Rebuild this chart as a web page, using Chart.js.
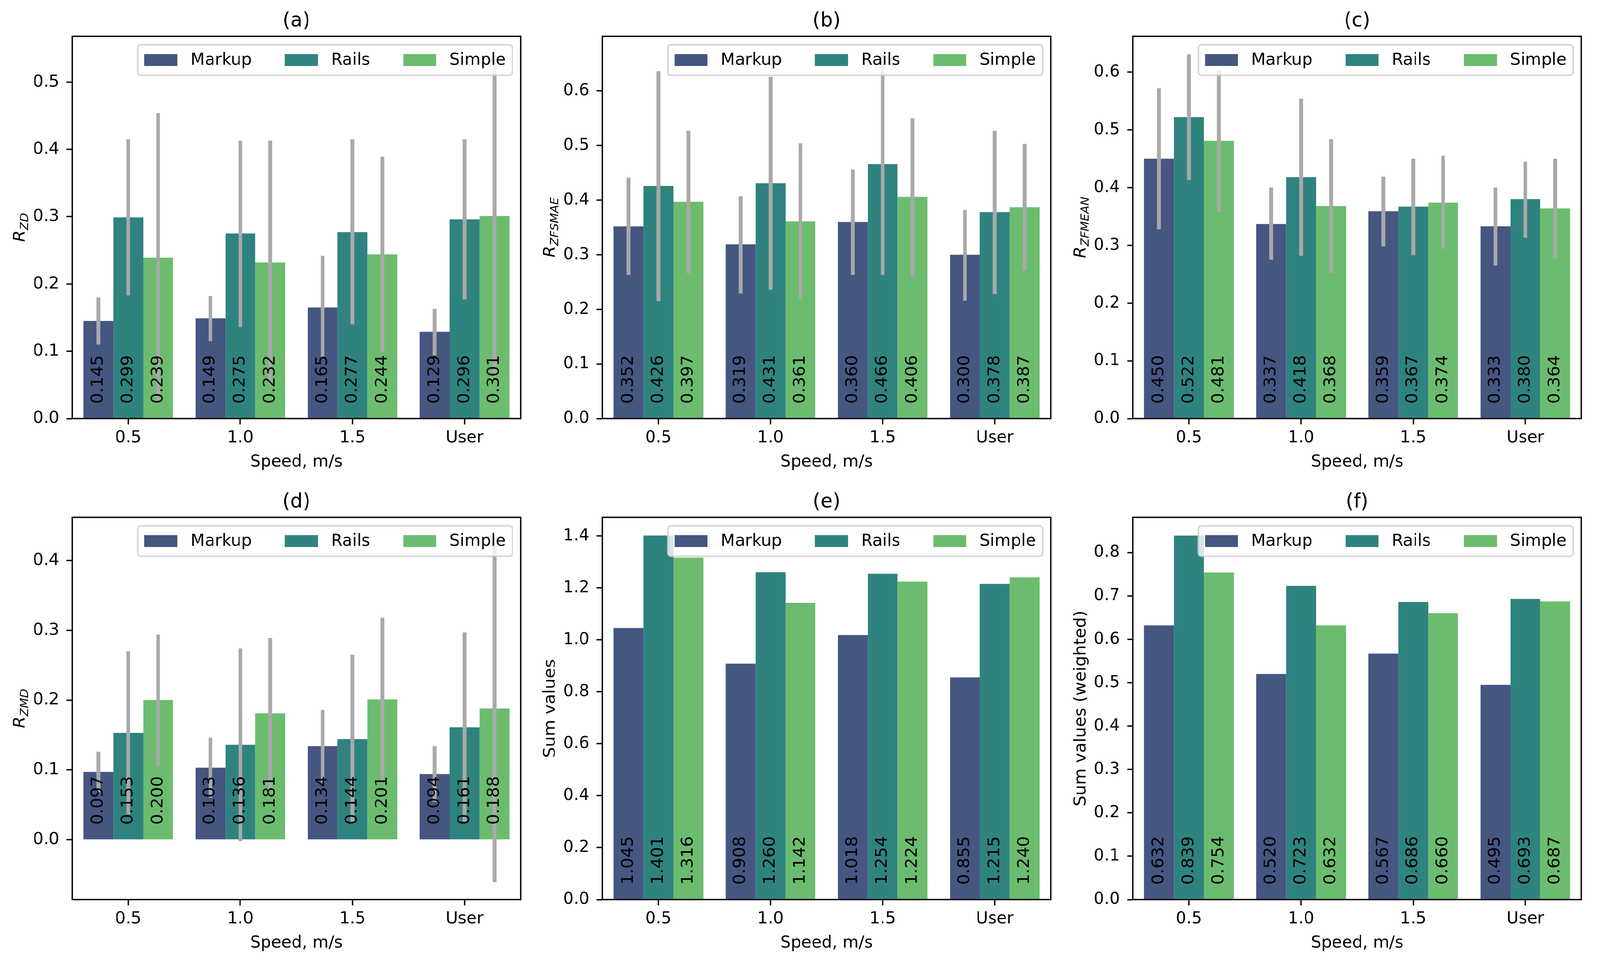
<!DOCTYPE html>
<html>
<head>
<meta charset="utf-8">
<title>Speed comparison</title>
<script src="https://cdn.jsdelivr.net/npm/chart.js@4.4.1/dist/chart.umd.min.js"></script>
<style>
  html, body { margin: 0; padding: 0; background: #fff; overflow: hidden; }
  #fig { position: absolute; left: 0; top: 0; width: 4213px; height: 2469px; transform-origin: 0 0; }
  .panel { position: absolute; width: 1391px; height: 1222px; }
</style>
</head>
<body>
<div id="fig">
<div class="panel" style="left:0px;top:0px"><canvas id="chartA"></canvas></div>
<div class="panel" style="left:1396px;top:0px"><canvas id="chartB"></canvas></div>
<div class="panel" style="left:2793px;top:0px"><canvas id="chartC"></canvas></div>
<div class="panel" style="left:0px;top:1232px"><canvas id="chartD"></canvas></div>
<div class="panel" style="left:1396px;top:1232px"><canvas id="chartE"></canvas></div>
<div class="panel" style="left:2793px;top:1232px"><canvas id="chartF"></canvas></div>
</div>
<script>
// categories and series
var speeds  = ['0.5', '1.0', '1.5', 'User'];
var methods = ['Markup', 'Rails', 'Simple'];
var colors  = ['#455681', '#2f837f', '#6cbc6f'];

// (a) R_ZD  -- rows: Markup, Rails, Simple
var rzd     = [[0.145, 0.149, 0.165, 0.129], [0.299, 0.275, 0.277, 0.296], [0.239, 0.232, 0.244, 0.301]];
var rzdLow  = [[0.110, 0.115, 0.090, 0.094], [0.183, 0.136, 0.140, 0.177], [0.025, 0.051, 0.099, 0.062]];
var rzdHigh = [[0.180, 0.182, 0.242, 0.163], [0.415, 0.413, 0.415, 0.415], [0.454, 0.413, 0.389, 0.540]];
var rzdTicks = [0, 0.1, 0.2, 0.3, 0.4, 0.5];

// (b) R_ZFSMAE
var rfs     = [[0.352, 0.319, 0.360, 0.300], [0.426, 0.431, 0.466, 0.378], [0.397, 0.361, 0.406, 0.387]];
var rfsLow  = [[0.263, 0.229, 0.263, 0.216], [0.215, 0.236, 0.263, 0.228], [0.266, 0.218, 0.260, 0.271]];
var rfsHigh = [[0.441, 0.407, 0.456, 0.382], [0.636, 0.626, 0.669, 0.527], [0.527, 0.504, 0.550, 0.503]];
var rfsTicks = [0, 0.1, 0.2, 0.3, 0.4, 0.5, 0.6];

// (c) R_ZFMEAN
var rfm     = [[0.450, 0.337, 0.359, 0.333], [0.522, 0.418, 0.367, 0.380], [0.481, 0.368, 0.374, 0.364]];
var rfmLow  = [[0.328, 0.275, 0.298, 0.265], [0.413, 0.282, 0.283, 0.313], [0.358, 0.252, 0.294, 0.277]];
var rfmHigh = [[0.572, 0.400, 0.419, 0.400], [0.631, 0.554, 0.450, 0.445], [0.603, 0.484, 0.455, 0.450]];
var rfmTicks = [0, 0.1, 0.2, 0.3, 0.4, 0.5, 0.6];

// (d) R_ZMD
var rmd     = [[0.097, 0.103, 0.134, 0.094], [0.153, 0.136, 0.144, 0.161], [0.200, 0.181, 0.201, 0.188]];
var rmdLow  = [[0.068, 0.060, 0.082, 0.054], [0.036, -0.002, 0.023, 0.025], [0.106, 0.073, 0.084, -0.061]];
var rmdHigh = [[0.126, 0.146, 0.186, 0.134], [0.270, 0.274, 0.265, 0.297], [0.294, 0.289, 0.318, 0.437]];
var rmdTicks = [0, 0.1, 0.2, 0.3, 0.4];

// (e) sum values
var sums     = [[1.045, 0.908, 1.018, 0.855], [1.401, 1.260, 1.254, 1.215], [1.316, 1.142, 1.224, 1.240]];
var sumTicks = [0, 0.2, 0.4, 0.6, 0.8, 1.0, 1.2, 1.4];

// (f) sum values (weighted)
var wsums     = [[0.632, 0.520, 0.567, 0.495], [0.839, 0.723, 0.686, 0.693], [0.754, 0.632, 0.660, 0.687]];
var wsumTicks = [0, 0.1, 0.2, 0.3, 0.4, 0.5, 0.6, 0.7, 0.8];

var FONT = 'DejaVu Sans';
var FS = 43.5;

// the viewport may be narrower than 4213px; stretch the figure onto it
var fig = document.getElementById('fig');
var kx = window.innerWidth / 4213;
var ky = window.innerHeight / 2469;
fig.style.transform = 'scale(' + kx + ',' + ky + ')';

Chart.defaults.font.family = FONT;
Chart.defaults.color = '#000';

function makeChart(id, letter, yMain, ySub, values, low, high, yMin, yMax, ticks) {

    var decor = {
        id: 'decor' + letter,
        afterDatasetsDraw: function(chart) {
            var ctx = chart.ctx;
            var area = chart.chartArea;
            var yScale = chart.scales.y;

            // error bars
            if (low) {
                ctx.save();
                ctx.beginPath();
                ctx.rect(area.left, area.top, area.right - area.left, area.bottom - area.top);
                ctx.clip();
                ctx.strokeStyle = '#a9a9a9';
                ctx.lineWidth = 10;
                ctx.lineCap = 'butt';
                chart.data.datasets.forEach(function(ds, di) {
                    chart.getDatasetMeta(di).data.forEach(function(bar, i) {
                        ctx.beginPath();
                        ctx.moveTo(bar.x, yScale.getPixelForValue(low[di][i]));
                        ctx.lineTo(bar.x, yScale.getPixelForValue(high[di][i]));
                        ctx.stroke();
                    });
                });
                ctx.restore();
            }

            // value labels, rotated, sitting on the zero line
            ctx.save();
            ctx.fillStyle = '#000';
            ctx.font = FS + 'px "' + FONT + '"';
            ctx.textAlign = 'left';
            ctx.textBaseline = 'middle';
            var y0 = yScale.getPixelForValue(0) - 38;
            chart.data.datasets.forEach(function(ds, di) {
                chart.getDatasetMeta(di).data.forEach(function(bar, i) {
                    ctx.save();
                    ctx.translate(bar.x, y0);
                    ctx.rotate(-Math.PI / 2);
                    ctx.fillText(ds.data[i].toFixed(3), 0, 0);
                    ctx.restore();
                });
            });
            ctx.restore();

            // frame
            ctx.save();
            ctx.strokeStyle = '#000';
            ctx.lineWidth = 3.5;
            ctx.strokeRect(area.left, area.top, area.right - area.left, area.bottom - area.top);
            ctx.restore();
        },
        afterDraw: function(chart) {
            var ctx = chart.ctx;
            var area = chart.chartArea;

            // panel title
            ctx.save();
            ctx.fillStyle = '#000';
            ctx.font = '52px "' + FONT + '"';
            ctx.textAlign = 'center';
            ctx.textBaseline = 'alphabetic';
            ctx.fillText('(' + letter + ')', (area.left + area.right) / 2, area.top - 25);
            ctx.restore();

            // y label (with optional subscript)
            ctx.save();
            ctx.fillStyle = '#000';
            ctx.translate(area.left - 125, (area.top + area.bottom) / 2);
            ctx.rotate(-Math.PI / 2);
            ctx.textBaseline = 'alphabetic';
            ctx.textAlign = 'left';
            if (ySub) {
                var mainFont = 'italic ' + FS + 'px "' + FONT + '"';
                var subFont = 'italic ' + (FS * 0.7) + 'px "' + FONT + '"';
                ctx.font = mainFont;
                var wMain = ctx.measureText(yMain).width;
                ctx.font = subFont;
                var wSub = ctx.measureText(ySub).width;
                var x0 = -(wMain + wSub) / 2;
                ctx.font = mainFont;
                ctx.fillText(yMain, x0, 0);
                ctx.font = subFont;
                ctx.fillText(ySub, x0 + wMain, 9);
            } else {
                ctx.font = FS + 'px "' + FONT + '"';
                ctx.textAlign = 'center';
                ctx.fillText(yMain, 0, 0);
            }
            ctx.restore();

            // legend box, upper right inside the axes
            ctx.save();
            ctx.font = FS + 'px "' + FONT + '"';
            var pad = 0.4 * FS, hLen = 2 * FS, hH = 0.7 * FS, tPad = 0.8 * FS, colSp = 2 * FS;
            var widths = methods.map(function(m) { return ctx.measureText(m).width; });
            var boxW = 2 * pad + colSp * (methods.length - 1);
            widths.forEach(function(w) { boxW += hLen + tPad + w; });
            var boxH = 78;
            var bx = area.right - 0.5 * FS - boxW;
            var by = area.top + 0.5 * FS;
            ctx.beginPath();
            ctx.roundRect(bx, by, boxW, boxH, 8);
            ctx.fillStyle = 'rgba(255,255,255,0.8)';
            ctx.fill();
            ctx.strokeStyle = 'rgba(204,204,204,0.8)';
            ctx.lineWidth = 4;
            ctx.stroke();
            var cy = by + boxH / 2;
            var x = bx + pad;
            ctx.textAlign = 'left';
            ctx.textBaseline = 'middle';
            methods.forEach(function(m, i) {
                ctx.fillStyle = colors[i];
                ctx.fillRect(x, cy - hH / 2, hLen, hH);
                ctx.fillStyle = '#000';
                ctx.fillText(m, x + hLen + tPad, cy + 1);
                x += hLen + tPad + widths[i] + colSp;
            });
            ctx.restore();
        }
    };

    var datasets = methods.map(function(m, i) {
        return {
            label: m,
            data: values[i],
            backgroundColor: colors[i],
            borderWidth: 0,
            categoryPercentage: 0.8,
            barPercentage: 1.0
        };
    });

    var tickFont = { family: FONT, size: FS };

    return new Chart(document.getElementById(id), {
        type: 'bar',
        data: { labels: speeds, datasets: datasets },
        options: {
            responsive: true,
            maintainAspectRatio: false,
            animation: false,
            events: [],
            layout: { padding: { top: 93, right: 20, left: 0, bottom: 0 } },
            plugins: {
                legend: { display: false },
                tooltip: { enabled: false },
                title: { display: false }
            },
            scales: {
                x: {
                    type: 'category',
                    offset: true,
                    border: { display: false },
                    grid: {
                        offset: false,
                        drawOnChartArea: false,
                        drawTicks: true,
                        tickLength: 15,
                        tickWidth: 3.5,
                        tickColor: '#000'
                    },
                    ticks: { font: tickFont, color: '#000', padding: 9, maxRotation: 0 },
                    title: {
                        display: true,
                        text: 'Speed, m/s',
                        font: tickFont,
                        color: '#000',
                        padding: { top: 0, bottom: 12 }
                    },
                    afterFit: function(s) { s.height = 150; }
                },
                y: {
                    min: yMin,
                    max: yMax,
                    border: { display: false },
                    grid: {
                        drawOnChartArea: false,
                        drawTicks: true,
                        tickLength: 15,
                        tickWidth: 3.5,
                        tickColor: '#000'
                    },
                    ticks: {
                        font: tickFont,
                        color: '#000',
                        padding: 19,
                        autoSkip: false,
                        callback: function(v) { return Number(v).toFixed(1); }
                    },
                    afterBuildTicks: function(s) {
                        s.ticks = ticks.map(function(v) { return { value: v }; });
                    },
                    afterFit: function(s) { s.width = 190; }
                }
            }
        },
        plugins: [decor]
    });
}

makeChart('chartA', 'a', 'R', 'ZD',     rzd,   rzdLow, rzdHigh, 0, 0.568, rzdTicks);
makeChart('chartB', 'b', 'R', 'ZFSMAE', rfs,   rfsLow, rfsHigh, 0, 0.700, rfsTicks);
makeChart('chartC', 'c', 'R', 'ZFMEAN', rfm,   rfmLow, rfmHigh, 0, 0.662, rfmTicks);
makeChart('chartD', 'd', 'R', 'ZMD',    rmd,   rmdLow, rmdHigh, -0.086, 0.462, rmdTicks);
makeChart('chartE', 'e', 'Sum values', '',            sums,  null, null, 0, 1.471, sumTicks);
makeChart('chartF', 'f', 'Sum values (weighted)', '', wsums, null, null, 0, 0.881, wsumTicks);
</script>
</body>
</html>
